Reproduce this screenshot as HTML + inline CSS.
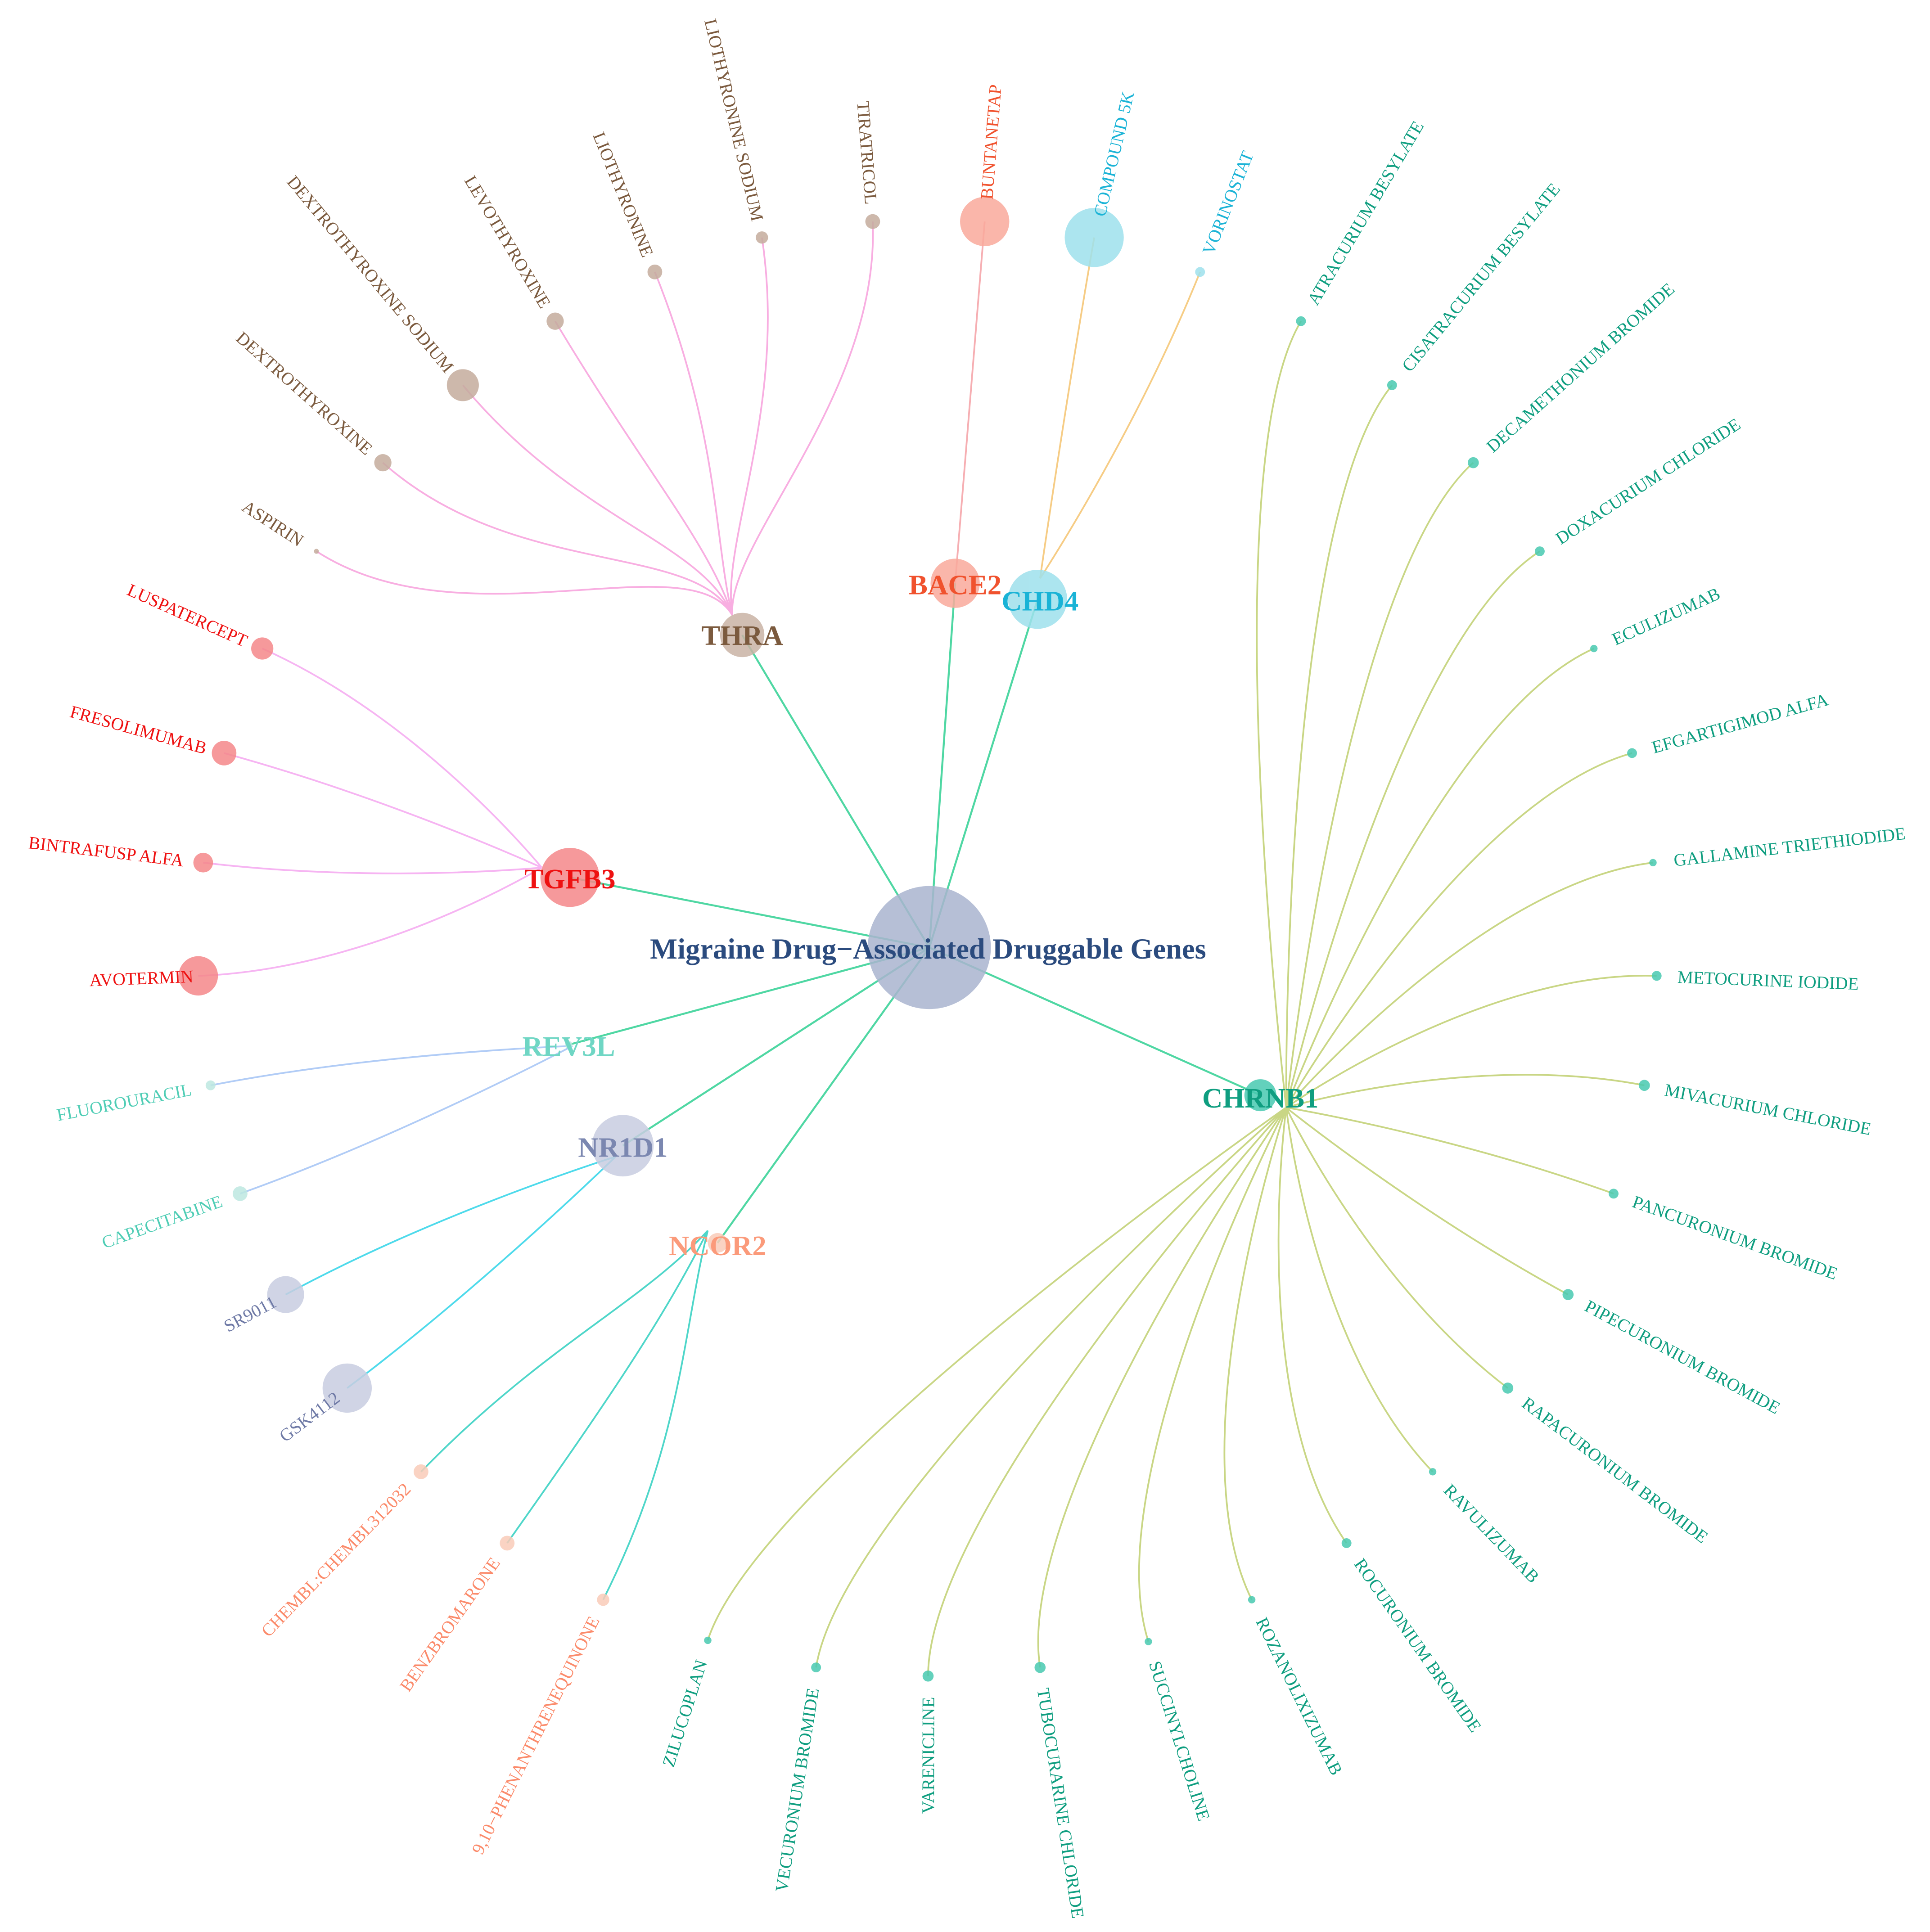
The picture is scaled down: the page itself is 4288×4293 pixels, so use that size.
<!DOCTYPE html>
<html><head><meta charset="utf-8"><style>
html,body{margin:0;padding:0;background:#fff}
svg{display:block}
text{font-family:"Liberation Serif",serif}
</style></head><body>
<svg width="4288" height="4293" viewBox="0 0 1568 1570" xmlns="http://www.w3.org/2000/svg">
<rect width="1568" height="1570" fill="#fff"/>
<g fill="none" stroke-width="1.4" opacity="0.85">
<g stroke="#f7a0dc">
<path d="M595,500 C560,440 376,525 257,448"/>
<path d="M595,500 C565,440 418,471 311,376"/>
<path d="M595,500 C570,440 467,423 376,313"/>
<path d="M595,500 C575,440 524,383 451,261"/>
<path d="M595,500 C580,440 585,353 532,221"/>
<path d="M595,500 C585,440 640,331 619,193"/>
<path d="M595,500 C590,440 715,322 709,180"/>
</g>
<path stroke="#f4a0a4" d="M776,474 L800,180"/>
<g stroke="#f5c470">
<path d="M845,470 C845,470 865,331 889,193"/>
<path d="M845,470 C845,470 922,353 975,221"/>
</g>
<g stroke="#c0d070">
<path d="M1045,900 C1045,900 984,383 1057,261"/>
<path d="M1045,900 C1045,900 1041,423 1131,313"/>
<path d="M1045,900 C1045,900 1091,471 1197,376"/>
<path d="M1045,900 C1045,900 1132,525 1251,448"/>
<path d="M1045,900 C1045,900 1165,585 1295,527"/>
<path d="M1045,900 C1045,900 1189,650 1326,612"/>
<path d="M1045,900 C1045,900 1202,718 1343,701"/>
<path d="M1045,900 C1045,900 1204,788 1346,793"/>
<path d="M1045,900 C1045,900 1197,855 1336,882"/>
<path d="M1045,900 C1045,900 1178,922 1311,970"/>
<path d="M1045,900 C1045,900 1149,984 1274,1052"/>
<path d="M1045,900 C1045,900 1112,1042 1225,1128"/>
<path d="M1045,900 C1045,900 1066,1094 1164,1196"/>
<path d="M1045,900 C1045,900 1013,1138 1094,1254"/>
<path d="M1045,900 C1045,900 954,1173 1017,1300"/>
<path d="M1045,900 C1045,900 890,1199 933,1334"/>
<path d="M1045,900 C1045,900 823,1215 845,1355"/>
<path d="M1045,900 C1045,900 754,1220 754,1362"/>
<path d="M1045,900 C1045,900 685,1215 663,1355"/>
<path d="M1045,900 C1045,900 618,1198 575,1333"/>
</g>
<g stroke="#f5a8f0">
<path d="M440,705 C440,705 343,585 213,527"/>
<path d="M440,705 C440,705 320,650 182,612"/>
<path d="M440,705 C440,705 307,718 165,701"/>
<path d="M440,705 C440,705 304,788 161,793"/>
</g>
<g stroke="#a4c4f5">
<path d="M465,850 C465,850 311,855 171,882"/>
<path d="M465,850 C465,850 329,922 195,970"/>
</g>
<g stroke="#30d4e8">
<path d="M500,940 C500,940 358,984 232,1052"/>
<path d="M500,940 C500,940 396,1042 282,1128"/>
</g>
<g stroke="#30cfc0">
<path d="M575,1000 C520,1060 441,1094 342,1196"/>
<path d="M575,1000 C540,1070 494,1138 412,1254"/>
<path d="M575,1000 C555,1080 554,1173 490,1300"/>
</g>
</g>
<g stroke="#3dd39a" stroke-width="1.6" opacity="0.9">
<line x1="755" y1="770" x2="603" y2="516"/>
<line x1="755" y1="770" x2="776" y2="474"/>
<line x1="755" y1="770" x2="843" y2="487"/>
<line x1="755" y1="770" x2="463" y2="713"/>
<line x1="755" y1="770" x2="462" y2="849"/>
<line x1="755" y1="770" x2="506" y2="931"/>
<line x1="755" y1="770" x2="583" y2="1010"/>
<line x1="755" y1="770" x2="1024" y2="890"/>
</g>
<g opacity="0.85">
<circle cx="755" cy="770" r="50" fill="#a9b4cf"/>
<circle cx="603" cy="516" r="18" fill="#c9b3a5"/>
<circle cx="776" cy="474" r="20" fill="#f9a99b"/>
<circle cx="843" cy="487" r="24" fill="#9ee0ec"/>
<circle cx="463" cy="713" r="24" fill="#f4878a"/>
<circle cx="462" cy="849" r="3" fill="#bde8e0"/>
<circle cx="506" cy="931" r="25" fill="#c8cde0"/>
<circle cx="583" cy="1010" r="8" fill="#f9cbb8"/>
<circle cx="1024" cy="890" r="13" fill="#48c9b0"/>
<g fill="#c4ab9c">
<circle cx="257" cy="448" r="2"/><circle cx="311" cy="376" r="7"/><circle cx="376" cy="313" r="13"/>
<circle cx="451" cy="261" r="7"/><circle cx="532" cy="221" r="6"/><circle cx="619" cy="193" r="5"/><circle cx="709" cy="180" r="6"/>
</g>
<circle cx="800" cy="180" r="20" fill="#f9a99b"/>
<circle cx="889" cy="193" r="24" fill="#9ee0ec"/>
<circle cx="975" cy="221" r="4" fill="#9ee0ec"/>
<g fill="#48c9b0">
<circle cx="1057" cy="261" r="4"/><circle cx="1131" cy="313" r="4"/><circle cx="1197" cy="376" r="4.5"/>
<circle cx="1251" cy="448" r="4"/><circle cx="1295" cy="527" r="3"/><circle cx="1326" cy="612" r="4"/>
<circle cx="1343" cy="701" r="3"/><circle cx="1346" cy="793" r="4"/><circle cx="1336" cy="882" r="4.5"/>
<circle cx="1311" cy="970" r="4"/><circle cx="1274" cy="1052" r="4.5"/><circle cx="1225" cy="1128" r="4.5"/>
<circle cx="1164" cy="1196" r="3"/><circle cx="1094" cy="1254" r="4"/><circle cx="1017" cy="1300" r="3"/>
<circle cx="933" cy="1334" r="3"/><circle cx="845" cy="1355" r="4.5"/><circle cx="754" cy="1362" r="4.5"/>
<circle cx="663" cy="1355" r="4"/><circle cx="575" cy="1333" r="3"/>
</g>
<g fill="#f4878a">
<circle cx="213" cy="527" r="9"/><circle cx="182" cy="612" r="10"/><circle cx="165" cy="701" r="8"/><circle cx="161" cy="793" r="16"/>
</g>
<circle cx="171" cy="882" r="4" fill="#bde8e0"/><circle cx="195" cy="970" r="6" fill="#bde8e0"/>
<circle cx="232" cy="1052" r="15" fill="#c8cde0"/><circle cx="282" cy="1128" r="20" fill="#c8cde0"/>
<g fill="#f9cbb8"><circle cx="342" cy="1196" r="6"/><circle cx="412" cy="1254" r="6"/><circle cx="490" cy="1300" r="5"/></g>
</g>
<g font-weight="bold" font-size="23" text-anchor="middle">
<text x="754" y="779" fill="#2b4b7e" font-size="23.6">Migraine Drug−Associated Druggable Genes</text>
<text x="603" y="524" fill="#7b5a3e">THRA</text>
<text x="776" y="483" fill="#f0522e">BACE2</text>
<text x="845" y="496" fill="#1ab3d6">CHD4</text>
<text x="463" y="722" fill="#ee1111">TGFB3</text>
<text x="462" y="858" fill="#6fd6c4">REV3L</text>
<text x="506" y="940" fill="#7b87b0">NR1D1</text>
<text x="583" y="1020" fill="#fb9a7a">NCOR2</text>
<text x="1024" y="900" fill="#0f9e80">CHRNB1</text>
</g>
<g font-size="14.4">
<g fill="#7b5a3e" text-anchor="end">
<text transform="translate(257,448) rotate(32.9)" x="-14" y="5">ASPIRIN</text>
<text transform="translate(311,376) rotate(41.6)" x="-14" y="5">DEXTROTHYROXINE</text>
<text transform="translate(376,313) rotate(50.3)" x="-16" y="5">DEXTROTHYROXINE SODIUM</text>
<text transform="translate(451,261) rotate(59.2)" x="-14" y="5">LEVOTHYROXINE</text>
<text transform="translate(532,221) rotate(67.9)" x="-14" y="5">LIOTHYRONINE</text>
<text transform="translate(619,193) rotate(76.7)" x="-14" y="5">LIOTHYRONINE SODIUM</text>
<text transform="translate(709,180) rotate(85.5)" x="-14" y="5">TIRATRICOL</text>
</g>
<text fill="#f0522e" transform="translate(800,180) rotate(-85.6)" x="18" y="5">BUNTANETAP</text>
<text fill="#1ab3d6" transform="translate(889,193) rotate(-76.9)" x="18" y="5">COMPOUND 5K</text>
<text fill="#1ab3d6" transform="translate(975,221) rotate(-68.2)" x="16" y="5">VORINOSTAT</text>
<g fill="#0f9e80">
<text transform="translate(1057,261) rotate(-59.3)" x="17" y="5">ATRACURIUM BESYLATE</text>
<text transform="translate(1131,313) rotate(-50.6)" x="17" y="5">CISATRACURIUM BESYLATE</text>
<text transform="translate(1197,376) rotate(-41.7)" x="17" y="5">DECAMETHONIUM BROMIDE</text>
<text transform="translate(1251,448) rotate(-33)" x="17" y="5">DOXACURIUM CHLORIDE</text>
<text transform="translate(1295,527) rotate(-24.2)" x="17" y="5">ECULIZUMAB</text>
<text transform="translate(1326,612) rotate(-15.5)" x="17" y="5">EFGARTIGIMOD ALFA</text>
<text transform="translate(1343,701) rotate(-6.7)" x="17" y="5">GALLAMINE TRIETHIODIDE</text>
<text transform="translate(1346,793) rotate(2.2)" x="17" y="5">METOCURINE IODIDE</text>
<text transform="translate(1336,882) rotate(10.9)" x="17" y="5">MIVACURIUM CHLORIDE</text>
<text transform="translate(1311,970) rotate(19.8)" x="17" y="5">PANCURONIUM BROMIDE</text>
<text transform="translate(1274,1052) rotate(28.5)" x="17" y="5">PIPECURONIUM BROMIDE</text>
<text transform="translate(1225,1128) rotate(37.3)" x="17" y="5">RAPACURONIUM BROMIDE</text>
<text transform="translate(1164,1196) rotate(46.2)" x="17" y="5">RAVULIZUMAB</text>
<text transform="translate(1094,1254) rotate(55)" x="17" y="5">ROCURONIUM BROMIDE</text>
<text transform="translate(1017,1300) rotate(63.7)" x="17" y="5">ROZANOLIXIZUMAB</text>
<text transform="translate(933,1334) rotate(72.5)" x="17" y="5">SUCCINYLCHOLINE</text>
<text transform="translate(845,1355) rotate(81.3)" x="17" y="5">TUBOCURARINE CHLORIDE</text>
<g text-anchor="end">
<text transform="translate(754,1362) rotate(-89.9)" x="-17" y="5">VARENICLINE</text>
<text transform="translate(663,1355) rotate(-81.1)" x="-17" y="5">VECURONIUM BROMIDE</text>
<text transform="translate(575,1333) rotate(-72.3)" x="-17" y="5">ZILUCOPLAN</text>
</g>
</g>
<g text-anchor="end">
<g fill="#ee1111">
<text transform="translate(213,527) rotate(24.1)" x="-14" y="5">LUSPATERCEPT</text>
<text transform="translate(182,612) rotate(15.4)" x="-15" y="5">FRESOLIMUMAB</text>
<text transform="translate(165,701) rotate(6.7)" x="-16" y="5">BINTRAFUSP ALFA</text>
<text transform="translate(161,793) rotate(-2.2)" x="-4" y="5">AVOTERMIN</text>
</g>
<g fill="#4fcdb5">
<text transform="translate(171,882) rotate(-10.9)" x="-16" y="5">FLUOROURACIL</text>
<text transform="translate(195,970) rotate(-19.7)" x="-16" y="5">CAPECITABINE</text>
</g>
<g fill="#6f7aa6">
<text transform="translate(232,1052) rotate(-28.3)" x="-10" y="5">SR9011</text>
<text transform="translate(282,1128) rotate(-37.1)" x="-10" y="5">GSK4112</text>
</g>
<g fill="#fb8a6a">
<text transform="translate(342,1196) rotate(-45.9)" x="-16" y="5">CHEMBL:CHEMBL312032</text>
<text transform="translate(412,1254) rotate(-54.7)" x="-16" y="5">BENZBROMARONE</text>
<text transform="translate(490,1300) rotate(-63.4)" x="-16" y="5">9,10−PHENANTHRENEQUINONE</text>
</g>
</g>
</g>
</svg>
</body></html>
